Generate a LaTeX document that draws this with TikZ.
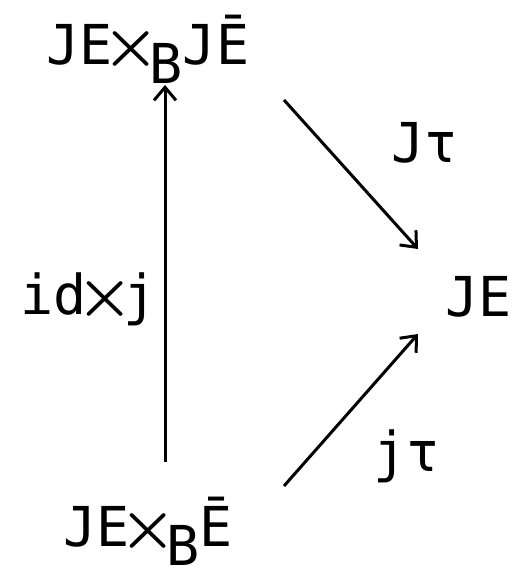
\documentclass[tikz,border=0pt]{standalone}
\usepackage{fontspec}
\setmainfont{DejaVu Sans Mono}
\usetikzlibrary{arrows.meta}
\newcommand{\subB}{\raisebox{-19pt}{B}}
\newcommand{\crs}{\makebox[0.68em]{\scalebox{6.4}[6.2]{\fontsize{10}{12}\selectfont\boldmath$\times$}}}
\tikzset{
  lbl/.style={inner sep=0pt, anchor=base west, font=\fontsize{55}{60}\selectfont},
  arr/.style={line width=3pt, -{Straight Barb[length=13pt,width=22pt,line width=3pt]}}
}
\begin{document}
\begin{tikzpicture}[x=1pt,y=1pt]
\useasboundingbox (0,0) rectangle (512,580);
\node[lbl] (top) at (46,515) {JE\crs\subB JĒ};
\node[lbl] (bot) at (63,33) {JE\crs\subB Ē};
\node[lbl] (je) at (445,263) {JE};
\node[lbl] (ljt) at (391,417) {Jτ};
\node[lbl] (lsj) at (373,108) {jτ};
\node[lbl] (lid) at (20,265) {id\crs j};
\draw[arr] ([shift={(102,85)}]bot.base west) -- ([shift={(119,-20)}]top.base west);
\draw[arr] ([shift={(221,61)}]bot.base west) -- ([shift={(-27,-17)}]je.base west);
\draw[arr] ([shift={(238,-35)}]top.base west) -- ([shift={(-27,68)}]je.base west);
\end{tikzpicture}
\end{document}
